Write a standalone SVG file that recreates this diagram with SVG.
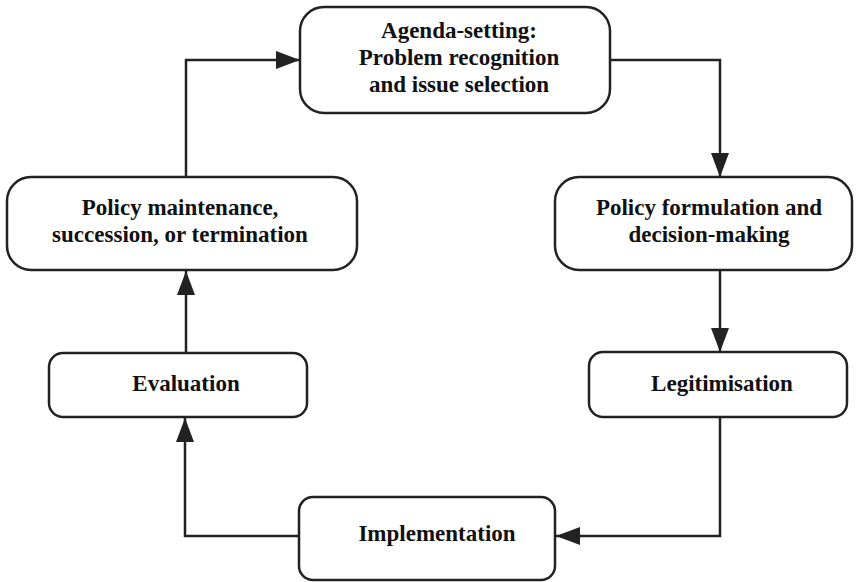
<svg xmlns="http://www.w3.org/2000/svg" width="857" height="582" viewBox="0 0 857 582">
<style>
.box{fill:#fff;stroke:#222;stroke-width:2.5}
.lbl{font-family:"Liberation Serif","Times New Roman",serif;font-weight:bold;font-size:23px;fill:#111;text-anchor:middle}
.con{fill:none;stroke:#222;stroke-width:2.5}
</style>
<defs>
<marker id="ah" viewBox="0 0 24 18" refX="24" refY="9" markerWidth="24" markerHeight="18" markerUnits="userSpaceOnUse" orient="auto">
<path d="M0,0 L24,9 L0,18 Z" fill="#222"/>
</marker>
</defs>
<rect width="857" height="582" fill="#fff"/>
<g id="connectors">
<path class="con" d="M610,60 H720 V177" marker-end="url(#ah)"/>
<path class="con" d="M720,270 V352" marker-end="url(#ah)"/>
<path class="con" d="M720,417 V536 H556" marker-end="url(#ah)"/>
<path class="con" d="M299,536 H185 V418" marker-end="url(#ah)"/>
<path class="con" d="M186,353 V271" marker-end="url(#ah)"/>
<path class="con" d="M186,177 V60 H300" marker-end="url(#ah)"/>
</g>
<g id="agenda">
<rect class="box" x="300" y="7" width="310" height="106" rx="24"/>
<text class="lbl" x="459" y="38">Agenda-setting:</text>
<text class="lbl" x="459" y="65">Problem recognition</text>
<text class="lbl" x="459" y="92">and issue selection</text>
</g>
<g id="formulation">
<rect class="box" x="555" y="177" width="297" height="93" rx="24"/>
<text class="lbl" x="709" y="215">Policy formulation and</text>
<text class="lbl" x="709" y="242">decision-making</text>
</g>
<g id="legitimisation">
<rect class="box" x="589" y="352" width="258" height="65" rx="14"/>
<text class="lbl" x="722" y="391">Legitimisation</text>
</g>
<g id="implementation">
<rect class="box" x="299" y="497" width="256" height="83" rx="14"/>
<text class="lbl" x="437" y="541">Implementation</text>
</g>
<g id="evaluation">
<rect class="box" x="49" y="353" width="258" height="64" rx="14"/>
<text class="lbl" x="186" y="391">Evaluation</text>
</g>
<g id="maintenance">
<rect class="box" x="7" y="177" width="350" height="93" rx="24"/>
<text class="lbl" x="180" y="215">Policy maintenance,</text>
<text class="lbl" x="180" y="242">succession, or termination</text>
</g>
</svg>
